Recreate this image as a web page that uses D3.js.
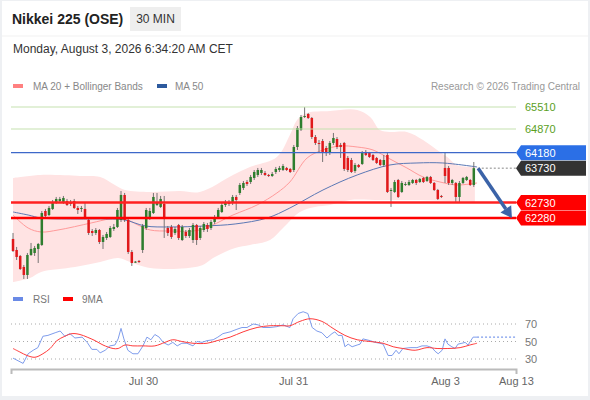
<!DOCTYPE html>
<html><head><meta charset="utf-8">
<script src="https://cdn.jsdelivr.net/npm/d3@7"></script>
<style>
body{margin:0;background:#fff;}
svg{display:block;font-family:"Liberation Sans",Arial,Helvetica,sans-serif;}
</style>
</head><body>
<svg id="chart" width="590" height="400"></svg>
<script>
// ---------- DATA ----------
const opens = [61670,61349,61175,60855,60622,61204,61262,61379,61495,62484,
62367,62543,62717,62775,62746,62775,62746,62775,62572,62543,
62543,62222,61902,61844,61931,61582,61699,61728,61960,62019,
62222,62950,62222,61291,61000,61030,61349,61989,62309,62425,
62659,62601,62688,61989,62019,61844,62077,61640,61873,61757,
61640,62077,61699,61931,62077,61989,62164,62309,62455,62659,
62746,62717,62892,63008,63154,63328,63328,63445,63532,63590,
63590,63532,63503,63619,63677,63677,63736,63707,
63677,64346,64841,65219,65307,65190,64637,64463,64521,64317,
64172,64463,64579,64405,64463,64027,63968,63648,63823,63852,
64201,64172,64114,64027,63968,63823,64114,63066,63037,63386,
63037,63241,63241,63299,63386,63328,63445,63357,63474,63299,
63095,62921,63736,63736,63299,63299,62892,63299,63386,63386,
63241];
const closes = [61320,61146,60796,60622,61204,61379,61408,61524,62425,62338,
62572,62717,62834,62834,62863,62659,62688,62572,62513,62572,
62280,61844,61844,61931,61582,61728,61815,61989,62019,62513,
62950,62222,61291,60971,61010,61000,62048,62513,62484,62892,
62717,62834,62280,61844,61728,61960,61699,62019,61757,61931,
62077,61640,61989,62106,61960,62164,62309,62513,62659,62746,
62688,62892,62804,63241,63299,63270,63474,63619,63677,63677,
63532,63503,63561,63707,63736,63794,63677,63619,
64346,64899,65219,65248,65190,64637,64463,64434,64172,64172,
64463,64608,64346,64346,63707,63677,63619,63823,63765,64172,
64114,64056,63968,63881,63823,63968,63037,63095,63328,62892,
63299,63270,63328,63386,63299,63416,63328,63474,63299,63095,
62834,62892,63503,63299,63386,62892,63299,63445,63474,63241,
63730];
const highs = [61844,61437,61204,60913,61262,61553,61466,61553,62484,62543,
62630,62804,62892,62892,62921,62834,62804,62834,62630,62630,
62717,62280,61960,61989,61960,61786,61873,62048,62106,62572,
63066,63008,62280,61349,61029,61058,62106,62572,62572,63008,
63008,62921,62921,62048,62077,62019,62106,62077,61931,61989,
62135,62106,62048,62164,62135,62222,62367,62572,62717,62804,
62804,62950,62950,63299,63357,63386,63532,63677,63736,63736,
63648,63561,63619,63765,63794,63852,63765,63736,
64405,64957,65278,65510,65336,65219,64695,64550,64579,64376,
64521,64754,64637,64463,64492,64085,64027,63881,63852,64230,
64259,64201,64143,64056,63998,64114,64172,63154,63386,63416,
63357,63328,63386,63416,63416,63445,63474,63503,63503,63328,
63125,62950,64172,63794,63416,63328,63357,63474,63503,63416,
63910];
const lows = [61291,61058,60767,60505,60505,61175,61175,60971,61466,62280,
62338,62513,62688,62717,62688,62630,62630,62543,62396,62455,
62251,61786,61757,61786,61524,61379,61640,61699,61902,61989,
62164,62164,61233,60884,60971,60971,61262,61931,62222,62396,
62630,62572,61699,61757,61670,61786,61640,61611,61699,61699,
61553,61495,61640,61873,61873,61931,62106,62251,62425,62601,
62630,62659,62513,62950,63095,63212,63270,63386,63474,63532,
63503,63474,63474,63561,63619,63648,63648,63590,
63619,64259,64812,65190,65160,64579,64405,64172,63910,64085,
64114,64405,64288,64027,63648,63619,63590,63590,63736,63823,
64085,64027,63939,63852,63794,63765,63008,62601,63008,62863,
63008,63212,63212,63270,63241,63299,63299,63328,63270,63066,
62804,62863,63299,63241,63241,62746,62746,63270,63357,63212,
63183];

// Bollinger bands, MA20, MA50: [candle index, price]
const bbUpper = [[0,63445],[7.5,63532],[18.6,63503],[24.2,63474],[28.3,63241],[31.1,63095],[38.1,63037],[46.4,63066],[51.9,63037],[61.1,63532],[65.8,63765],[73.3,64056],[76.9,64695],[78.9,65132],[81.7,65336],[88.1,65394],[95.6,65423],[99.2,65219],[101.9,64841],[104.7,64783],[109.4,64783],[113.9,64550],[117.8,64259],[120.6,64056],[123.3,63823],[128.3,63765]];
const bbLower = [[0,60418],[4.7,60534],[7.8,60709],[17.2,60855],[24.2,61000],[29.2,61117],[32.5,61000],[38.1,60826],[51.9,60884],[56.1,61146],[61.7,61408],[65.8,61495],[71.4,61640],[75,61989],[79.7,62455],[83.9,62601],[88.1,62659],[93.6,62804],[101.9,62804],[113.1,62804],[121.4,62775],[128.3,62746]];
const ma20 = [[0,62367],[4.2,61989],[7.8,61873],[12.5,61931],[21.7,62135],[26.9,62251],[31.1,62251],[34.7,62077],[38.1,61931],[43.6,61902],[51.9,61931],[61.1,62367],[67.8,62659],[73.3,63008],[76.9,63328],[81.7,64027],[86.1,64259],[90.8,64376],[95.6,64346],[100,64259],[104.7,63998],[109.4,63736],[113.9,63474],[118.6,63328],[123.3,63241],[128.9,63299]];
const ma50 = [[0,62455],[4.2,62367],[7.8,62280],[17.2,62251],[26.4,62251],[31.1,62222],[36.7,62048],[43.6,62019],[53.3,62048],[61.7,62106],[70.6,62280],[76.9,62571],[86.1,63095],[95.6,63532],[104.7,63823],[112.2,63881],[119.4,63881],[128.9,63765]];

// RSI and its 9MA: candle index and value
const rsiIdx = [0,2.8,4.2,5.6,6.9,8.3,9.7,11.7,13.1,14.4,15.8,17.2,19.2,20.6,21.9,23.3,24.2,25.6,26.9,28.3,29.2,30,30.8,31.9,33.3,34.7,36.1,37.2,38.3,39.4,40.6,41.7,43.1,44.4,45.6,46.9,48.3,50,51.1,52.5,53.9,55.6,56.9,58.3,60.3,62.2,63.6,65,66.7,68.1,69.4,71.4,73.3,75,76.9,77.8,79.2,80.6,81.9,83.1,84.4,85.8,87.2,88.6,89.4,90.3,91.4,92.2,93.1,94.2,95.6,96.4,97.2,99.2,100.6,101.9,102.8,104.2,105.3,106.4,107.2,108.3,110.3,112.2,113.6,115,116.4,117.2,118.1,119.2,120,120.8,121.9,122.8,123.6,124.7,125.6,126.4,127.8,128.9];
const rsiVal = [31,25,36,40,43,56,57,60,62,56,59,54,55,49,41,41,37,40,45,46,53,65,53,40,36,36,45,55,52,58,55,49,46,49,45,48,48,45,50,49,51,52,55,59,61,64,66,66,70,69,66,66,67,69,66,76,82,84,82,66,62,60,54,59,61,57,57,44,47,44,46,47,53,51,49,48,47,34,34,40,36,42,43,43,45,45,43,39,36,40,53,47,44,42,47,48,49,46,55,55];
const maIdx = [0,1.9,3.9,6.1,8.3,10.3,12.2,14.4,16.4,18.6,20.6,22.8,25,27.8,29.2,31.1,33.3,36.1,39.4,42.2,44.4,46.9,50,53.9,56.7,60.3,63.9,67.8,71.4,75,76.9,79.7,82.5,85.8,88.9,92.2,95.6,99.2,102.8,105.6,108.3,111.7,115,117.8,120.8,124.2,126.9,128.9];
const maVal = [42,38,34,32,36,42,51,56,59,58,55,51,46,42,42,46,45,45,45,49,52,50,48,48,51,55,61,66,68,68,68,73,76,73,65,57,52,50,48,44,42,40,43,42,42,43,46,48];

const levelValues = [65510, 64870, 64180, 63730, 62730, 62280];
const rsiLevels = [70, 50, 30];
const tickIdx = [36.1, 77.8, 120, 139.7];
const tickLabels = ["Jul 30", "Jul 31", "Aug 3", "Aug 13"];
const arrowPts = [[129.2, 63730], [138.6, 62280]];

// ---------- DRAW ----------
const svg = d3.select("#chart");
svg.append("rect").attr("width",590).attr("height",400).attr("fill","#eef0f3");
svg.append("rect").attr("x",2).attr("y",1).attr("width",586).attr("height",395).attr("fill","#fff");
svg.append("line").attr("x1",2).attr("x2",588).attr("y1",36).attr("y2",36).attr("stroke","#f1f1f1");

// header
svg.append("text").attr("x",12).attr("y",24).attr("font-size",14).attr("font-weight","bold").attr("fill","#222").text("Nikkei 225 (OSE)");
svg.append("rect").attr("x",130).attr("y",7).attr("width",51).attr("height",24).attr("fill","#eeeeee");
svg.append("text").attr("x",155.5).attr("y",23).attr("text-anchor","middle").attr("font-size",12).attr("fill","#333").text("30 MIN");
svg.append("text").attr("x",13).attr("y",53).attr("font-size",12).attr("fill","#333").text("Monday, August 3, 2026 6:34:20 AM CET");

// legends
svg.append("rect").attr("x",13).attr("y",84).attr("width",10).attr("height",4).attr("fill","#ff8080");
svg.append("text").attr("x",33).attr("y",90).attr("font-size",10).attr("fill","#888").text("MA 20 + Bollinger Bands");
svg.append("rect").attr("x",157).attr("y",84).attr("width",10).attr("height",4).attr("fill","#2d5a9e");
svg.append("text").attr("x",175).attr("y",90).attr("font-size",10).attr("fill","#888").text("MA 50");
svg.append("text").attr("x",580).attr("y",90).attr("text-anchor","end").attr("font-size",10).attr("fill","#999").text("Research \u00A9 2026 Trading Central");

const x = d3.scaleLinear().domain([-0.56, 139.72]).range([11, 516]);
const y = d3.scaleLinear().domain([62280, 65510]).range([218, 107]);
const yr = d3.scaleLinear().domain([30, 70]).range([359, 324]);

// bollinger band + moving averages
const pl = d3.line().x(d=>x(d[0])).y(d=>y(d[1])).curve(d3.curveCatmullRom);
const bandPath = pl(bbUpper) + "L" + pl(bbLower.slice().reverse()).slice(1) + "Z";
svg.append("path").attr("d",bandPath).attr("fill","#ffe3e3");
svg.append("path").attr("d",pl(ma20)).attr("fill","none").attr("stroke","#ff9a9a").attr("stroke-width",1);
svg.append("path").attr("d",pl(ma50)).attr("fill","none").attr("stroke","#5b78b5").attr("stroke-width",1);

// candles
const idx = d3.range(opens.length);
const cg = svg.append("g");
cg.selectAll("line.wick").data(idx).join("line")
  .attr("x1",i=>x(i)).attr("x2",i=>x(i))
  .attr("y1",i=>y(highs[i])).attr("y2",i=>y(lows[i]))
  .attr("stroke","#666").attr("stroke-width",0.9);
const bw = 2.5;
cg.selectAll("rect.body").data(idx).join("rect")
  .attr("x",i=>x(i)-bw/2).attr("width",bw)
  .attr("y",i=>y(Math.max(opens[i],closes[i])))
  .attr("height",i=>Math.max(1,Math.abs(y(opens[i])-y(closes[i]))))
  .attr("fill",i=>closes[i]>=opens[i]?"#2e7d2e":"#e0191b");

// levels
const levelStyle = {
  65510:{stroke:"#c6e2b0",w:1.2,label:"text",color:"#5aa01e"},
  64870:{stroke:"#c6e2b0",w:1.2,label:"text",color:"#5aa01e"},
  64180:{stroke:"#3d68c9",w:1.2,label:"box",color:"#2b6fe6"},
  63730:{stroke:"#888",w:1,label:"box",color:"#333333",dash:"2,2",from:x(opens.length-1)+4},
  62730:{stroke:"#ff2020",w:2.4,label:"box",color:"#ff0000"},
  62280:{stroke:"#ff0000",w:2.4,label:"box",color:"#ff0000"}
};
levelValues.forEach(v=>{
  const s = levelStyle[v], yy = y(v);
  const ln = svg.append("line").attr("x1",s.from||11).attr("x2",516).attr("y1",yy).attr("y2",yy)
    .attr("stroke",s.stroke).attr("stroke-width",s.w);
  if (s.dash) ln.attr("stroke-dasharray",s.dash);
  if (s.label==="box") {
    svg.append("path").attr("d",`M516,${yy}L521,${yy-7.5}L586,${yy-7.5}L586,${yy+7.5}L521,${yy+7.5}Z`).attr("fill",s.color);
    svg.append("text").attr("x",525).attr("y",yy+4).attr("font-size",11).attr("fill","#fff").text(v);
  } else {
    svg.append("text").attr("x",525).attr("y",yy+4).attr("font-size",11).attr("fill",s.color).text(v);
  }
});

// arrow
const ax1=x(arrowPts[0][0]), ay1=y(arrowPts[0][1]), ax2=x(arrowPts[1][0]), ay2=y(arrowPts[1][1]);
const ang = Math.atan2(ay2-ay1, ax2-ax1), hl=11, hw=6.5;
const bx = ax2 - hl*Math.cos(ang), by = ay2 - hl*Math.sin(ang);
svg.append("line").attr("x1",ax1).attr("y1",ay1).attr("x2",bx).attr("y2",by)
  .attr("stroke","#3b63a8").attr("stroke-width",3.5);
svg.append("path").attr("d",`M${ax2},${ay2}L${bx+hw*Math.sin(ang)},${by-hw*Math.cos(ang)}L${bx-hw*Math.sin(ang)},${by+hw*Math.cos(ang)}Z`)
  .attr("fill","#3b63a8");

// RSI panel
svg.append("rect").attr("x",13).attr("y",297).attr("width",10).attr("height",4).attr("fill","#6a8ae6");
svg.append("text").attr("x",33).attr("y",303).attr("font-size",10).attr("fill","#777").text("RSI");
svg.append("rect").attr("x",63).attr("y",297).attr("width",10).attr("height",4).attr("fill","#ff0000");
svg.append("text").attr("x",82).attr("y",303).attr("font-size",10).attr("fill","#777").text("9MA");

rsiLevels.forEach(v=>{
  svg.append("line").attr("x1",11).attr("x2",516).attr("y1",yr(v)).attr("y2",yr(v))
    .attr("stroke","#aaa").attr("stroke-width",1).attr("stroke-dasharray","1,3");
  svg.append("text").attr("x",525).attr("y",yr(v)+4).attr("font-size",11).attr("fill","#777").text(v);
});
const rsiPts = rsiIdx.map((d,i)=>[d, rsiVal[i]]);
const maPts = maIdx.map((d,i)=>[d, maVal[i]]);
const rl = d3.line().x(d=>x(d[0])).y(d=>yr(d[1]));
svg.append("path").attr("d",rl(rsiPts)).attr("fill","none").attr("stroke","#7e9cec").attr("stroke-width",1);
svg.append("path").attr("d",rl.curve(d3.curveCatmullRom)(maPts)).attr("fill","none").attr("stroke","#ff3a3a").attr("stroke-width",1);
const lastR = rsiPts[rsiPts.length-1];
svg.append("line").attr("x1",x(lastR[0])).attr("x2",516).attr("y1",yr(lastR[1])).attr("y2",yr(lastR[1]))
  .attr("stroke","#7e9cec").attr("stroke-width",1.2).attr("stroke-dasharray","2,2");

// x axis
const axis = d3.axisBottom(x).tickValues(tickIdx).tickFormat((d,i)=>tickLabels[i]).tickSizeInner(0).tickSizeOuter(5).tickPadding(8);
const gx = svg.append("g").attr("transform","translate(0,369)").call(axis);
gx.select(".domain").attr("stroke","#bbb").attr("stroke-width",2);
gx.selectAll("text").attr("font-size",11).attr("fill","#666").attr("font-family","'Liberation Sans',Arial,sans-serif");
</script>
</body></html>
